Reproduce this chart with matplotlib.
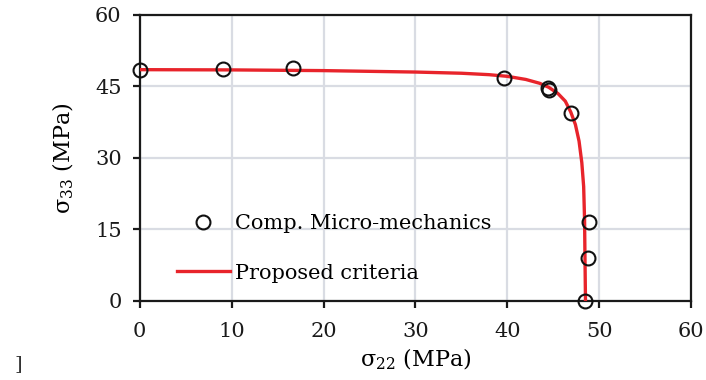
import matplotlib
from matplotlib import pyplot as plt

matplotlib.use("agg")
plt.rcParams["font.family"] = ["DejaVu Serif"]
plt.rcParams["mathtext.fontset"] = "dejavuserif"

# Computational micro-mechanics points (sigma_22, sigma_33)
micro_x = [0.0, 9.1, 16.7, 39.6, 44.4, 44.5, 46.9, 48.9, 48.8, 48.45]
micro_y = [48.45, 48.65, 48.75, 46.8, 44.6, 44.25, 39.4, 16.6, 9.0, 0.0]

# Proposed criteria curve
crit_x = [0, 10, 20, 30, 35, 38, 40, 42, 43.5, 44.5, 45.5, 46.3, 46.9, 47.4,
          47.8, 48.1, 48.3, 48.4, 48.45, 48.5]
crit_y = [48.5, 48.45, 48.3, 48.0, 47.75, 47.45, 47.1, 46.45, 45.65, 44.8,
          43.5, 41.9, 39.6, 37.0, 33.5, 29.0, 24.0, 17.0, 8.0, 0.0]

x_ticks = [0, 10, 20, 30, 40, 50, 60]
y_ticks = [0, 15, 30, 45, 60]

fig = plt.figure(figsize=(7.06, 3.8), dpi=100)
ax = fig.add_axes([0.198, 0.208, 0.781, 0.753])

ax.plot(crit_x, crit_y, color="#e8242b", lw=2.4, label="Proposed criteria", zorder=3)
ax.plot(micro_x, micro_y, ls="none", marker="o", ms=10, mfc="none", mec="#111111",
        mew=1.5, label="Comp. Micro-mechanics", zorder=4, clip_on=False)

ax.set_xlim(0, 60)
ax.set_ylim(0, 60)
ax.set_xticks(x_ticks)
ax.set_yticks(y_ticks)
ax.grid(True, color="#d9dce3", lw=1.6)
ax.set_axisbelow(True)
for s in ax.spines.values():
    s.set_linewidth(1.6)
    s.set_color("#1a1a1a")
ax.tick_params(direction="out", length=5, width=1.6, labelsize=15, colors="#1a1a1a")
ax.tick_params(axis="x", pad=10)
ax.tick_params(axis="y", pad=8)

ax.set_xlabel(r"σ$_{22}$ (MPa)", fontsize=16, labelpad=4)
ax.set_ylabel(r"σ$_{33}$ (MPa)", fontsize=16, labelpad=14)

handles, labels = ax.get_legend_handles_labels()
ax.legend(handles[::-1], labels[::-1], loc="upper left", bbox_to_anchor=(0.048, 0.34),
          frameon=False, fontsize=15, handlelength=2.55, handletextpad=0.25,
          labelspacing=1.46, borderpad=0)

fig.text(0.02, 0.03, "]", fontsize=14, color="#333333")

plt.savefig("out.png", dpi=100)
